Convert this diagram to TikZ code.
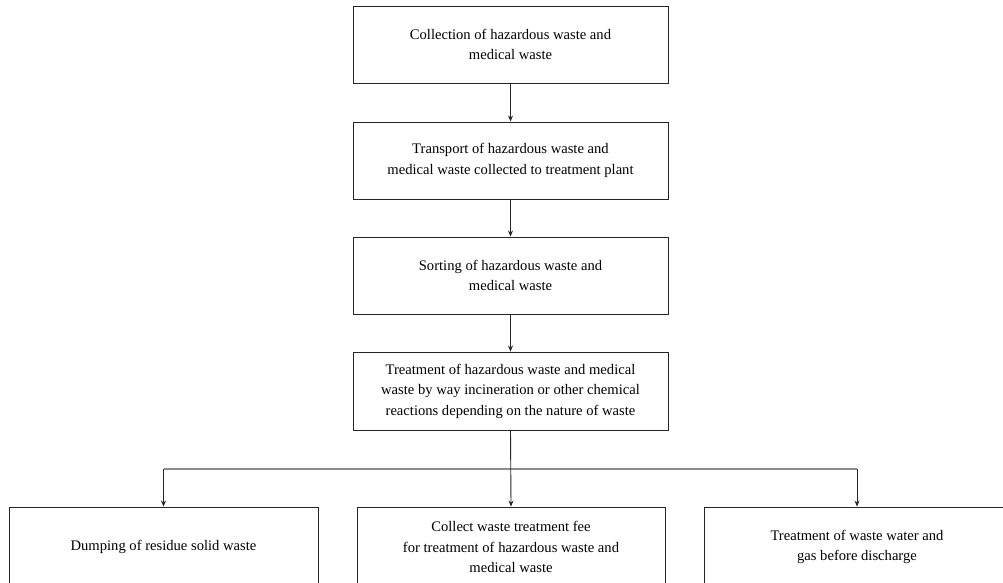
\documentclass[tikz,border=0pt]{standalone}
\usepackage{fontspec}
\setmainfont{Liberation Serif}
\usetikzlibrary{arrows.meta}
\begin{document}
\begin{tikzpicture}[x=1pt,y=-1pt,
 box/.style={draw=black!85, line width=0.9pt, align=center, font=\fontsize{14.6}{20.5}\selectfont, inner sep=0pt, anchor=center},
 arr/.style={draw=black!85, line width=0.9pt, -{Stealth[length=6pt,width=5pt]}},
 bus/.style={draw=black!45, line width=1.4pt},
]
\useasboundingbox (0,0) rectangle (1003,583);
\clip (0,0) rectangle (1003,583);
\node[box, minimum width=315pt, minimum height=77pt] (b1) at (510.5,44.5) {Collection of hazardous waste and\\medical waste};
\node[box, minimum width=315pt, minimum height=77pt] (b2) at (510.5,160.5) {Transport of hazardous waste and\\medical waste collected to treatment plant};
\node[box, minimum width=315pt, minimum height=77pt] (b3) at (510.5,275.5) {Sorting of hazardous waste and\\medical waste};
\node[box, minimum width=315pt, minimum height=78pt] (b4) at (510.5,391) {Treatment of hazardous waste and medical\\waste by way incineration or other chemical\\reactions depending on the nature of waste};
\node[box, minimum width=309pt, minimum height=80pt] (b5) at (163.5,547) {Dumping of residue solid waste};
\node[box, minimum width=308pt, minimum height=80pt] (b6) at (511,547) {Collect waste treatment fee\\for treatment of hazardous waste and\\medical waste};
\node[box, minimum width=306pt, minimum height=80pt] (b7) at (857,547) {Treatment of waste water and\\gas before discharge};
\coordinate (j) at (511,469);
\draw[arr] (b1.south) -- (b2.north);
\draw[arr] (b2.south) -- (b3.north);
\draw[arr] (b3.south) -- (b4.north);
\draw[bus] (j -| b5.north) -- (j -| b7.north);
\draw[arr] (b4.south) -- (b6.north);
\draw[arr] (j -| b5.north) -- (b5.north);
\draw[arr] (j -| b7.north) -- (b7.north);
\end{tikzpicture}
\end{document}
